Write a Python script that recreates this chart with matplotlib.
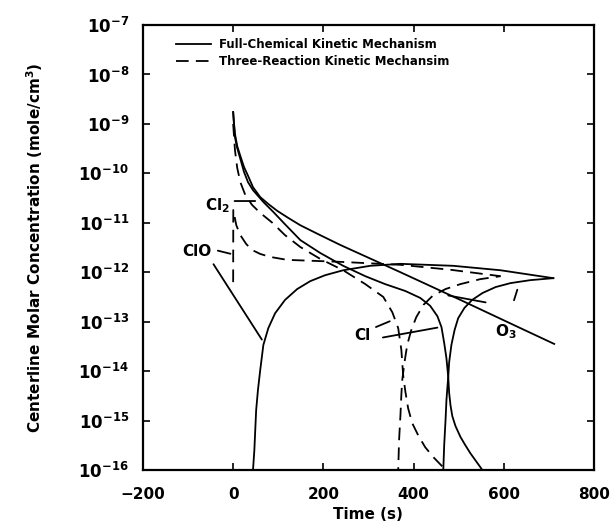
import numpy as np
import matplotlib.pyplot as plt

# time (s) and log10 of centerline concentration (mole/cm^3)
# full-chemical kinetic mechanism (solid)
cl2_full_t = [0, 2, 4, 9, 16, 24, 33, 44, 60, 78, 98, 122, 149, 193, 238, 371, 504, 637, 712]
cl2_full_c = [-8.76, -9.0, -9.2, -9.45, -9.65, -9.87, -10.05, -10.28, -10.48, -10.62, -10.76,
              -10.90, -11.05, -11.25, -11.45, -12.0, -12.56, -13.13, -13.45]

cl_full_t = [0, 2, 4, 9, 16, 24, 33, 44, 67, 89, 115, 149, 193, 244, 293, 337, 382, 415, 437,
             453, 462, 468, 473, 477, 479, 482, 486, 493, 504, 515, 526, 537, 548, 562]
cl_full_c = [-8.76, -9.04, -9.27, -9.49, -9.71, -9.97, -10.18, -10.34, -10.58, -10.78, -11.03,
             -11.35, -11.61, -11.87, -12.08, -12.24, -12.38, -12.52, -12.68, -12.89, -13.11,
             -13.43, -13.74, -14.12, -14.44, -14.69, -14.91, -15.11, -15.33, -15.50, -15.66,
             -15.80, -15.94, -16.12]

clo_full_t = [42, 44, 47, 49, 51, 55, 60, 67, 78, 93, 115, 142, 171, 204, 244, 304, 371, 488, 593, 710]
clo_full_c = [-16.2, -16.0, -15.6, -15.19, -14.79, -14.38, -13.98, -13.47, -13.13, -12.83, -12.56,
              -12.34, -12.18, -12.06, -11.96, -11.87, -11.83, -11.87, -11.96, -12.12]

o3_full_t = [464, 466, 468, 471, 473, 475, 477, 479, 484, 491, 499, 513, 530, 553, 582, 615, 659, 710]
o3_full_c = [-16.2, -16.0, -15.5, -14.99, -14.59, -14.34, -14.12, -13.82, -13.47, -13.17, -12.93,
             -12.72, -12.56, -12.42, -12.30, -12.22, -12.16, -12.12]

# three-reaction kinetic mechanism (dashed)
cl_red_t = [0, 4, 9, 16, 27, 42, 60, 87, 115, 149, 193, 244, 293, 333, 353, 366, 373, 377, 382,
            388, 397, 411, 426, 444, 462, 482]
cl_red_c = [-9.0, -9.53, -9.89, -10.18, -10.44, -10.64, -10.80, -11.0, -11.25, -11.49, -11.73,
            -11.96, -12.24, -12.50, -12.81, -13.13, -13.57, -14.08, -14.42, -14.75, -15.05,
            -15.31, -15.54, -15.74, -15.91, -16.04]

clo_red_t = [0, 0.3, 7, 16, 29, 42, 60, 82, 120, 238, 371, 482, 593]
clo_red_c = [-12.2, -10.74, -11.05, -11.25, -11.43, -11.55, -11.63, -11.69, -11.75, -11.79,
             -11.85, -11.95, -12.08]

o3_red_t = [366, 366, 368, 371, 373, 375, 380, 386, 395, 406, 422, 442, 471, 504, 548, 593]
o3_red_c = [-16.2, -16.0, -15.39, -14.89, -14.48, -14.18, -13.82, -13.47, -13.17, -12.91, -12.66,
            -12.48, -12.34, -12.24, -12.14, -12.08]

plt.rcParams['font.family'] = 'DejaVu Sans'
plt.rcParams['font.weight'] = 'bold'

fig = plt.figure(figsize=(6.11, 5.32), dpi=100)
ax = fig.add_axes([0.234, 0.1165, 0.738, 0.8365])

lw = 1.3
full = [(cl2_full_t, cl2_full_c), (cl_full_t, cl_full_c), (clo_full_t, clo_full_c), (o3_full_t, o3_full_c)]
red = [(cl_red_t, cl_red_c), (clo_red_t, clo_red_c), (o3_red_t, o3_red_c)]
for i, (t, c) in enumerate(full):
    ax.plot(t, 10.0 ** np.array(c), color='black', lw=lw,
            label='Full-Chemical Kinetic Mechanism' if i == 0 else None)
for i, (t, c) in enumerate(red):
    ax.plot(t, 10.0 ** np.array(c), color='black', lw=lw, ls=(0, (7, 4)),
            label='Three-Reaction Kinetic Mechansim' if i == 0 else None)

ax.set_yscale('log')
ax.set_xlim(-200, 800)
ax.set_ylim(1e-16, 1e-7)
ax.set_xticks([-200, 0, 200, 400, 600, 800])
ax.set_xticklabels(['\u2212200', '0', '200', '400', '600', '800'], fontsize=11, fontweight='bold')
ax.set_yticks([10.0 ** -k for k in range(7, 17)])
ax.set_yticklabels([r'$\mathbf{10^{-%d}}$' % k for k in range(7, 17)], fontsize=12)
ax.minorticks_off()
ax.tick_params(direction='in', length=5, width=1.2, top=True, right=True)
ax.tick_params(axis='x', pad=12)
ax.tick_params(axis='y', pad=10)
for s in ax.spines.values():
    s.set_linewidth(1.6)

ax.set_xlabel('Time (s)', fontsize=11, fontweight='bold', labelpad=4)
ax.set_ylabel('Centerline Molar Concentration (mole/cm$^\\mathbf{3}$)', fontsize=11,
              fontweight='bold', labelpad=24)

ax.legend(loc='upper left', bbox_to_anchor=(0.055, 0.99), frameon=False, fontsize=8.5,
          handlelength=3.0, handletextpad=0.6, borderaxespad=0.3, labelspacing=0.35)

# species labels with pointer lines
line_kw = dict(arrowstyle='-', color='black', lw=1.3)
ax.text(-35, 10 ** -10.66, 'Cl$_\\mathbf{2}$', fontsize=11, fontweight='bold', ha='center', va='center')
ax.annotate('', xy=(55, 10 ** -10.56), xytext=(-3, 10 ** -10.56), arrowprops=line_kw)
ax.text(-80, 10 ** -11.58, 'ClO', fontsize=11, fontweight='bold', ha='center', va='center')
ax.annotate('', xy=(0, 10 ** -11.64), xytext=(-40, 10 ** -11.55), arrowprops=line_kw)
ax.annotate('', xy=(67, 10 ** -13.41), xytext=(-47, 10 ** -11.79), arrowprops=line_kw)
ax.text(286, 10 ** -13.27, 'Cl', fontsize=11, fontweight='bold', ha='center', va='center')
ax.annotate('', xy=(353, 10 ** -12.97), xytext=(311, 10 ** -13.13), arrowprops=line_kw)
ax.annotate('', xy=(459, 10 ** -13.11), xytext=(326, 10 ** -13.33), arrowprops=line_kw)
ax.text(604, 10 ** -13.2, 'O$_\\mathbf{3}$', fontsize=11, fontweight='bold', ha='center', va='center')
ax.annotate('', xy=(471, 10 ** -12.46), xytext=(566, 10 ** -12.62), arrowprops=line_kw)
ax.annotate('', xy=(632, 10 ** -12.30), xytext=(621, 10 ** -12.62), arrowprops=line_kw)

fig.savefig('out.png', dpi=100)
